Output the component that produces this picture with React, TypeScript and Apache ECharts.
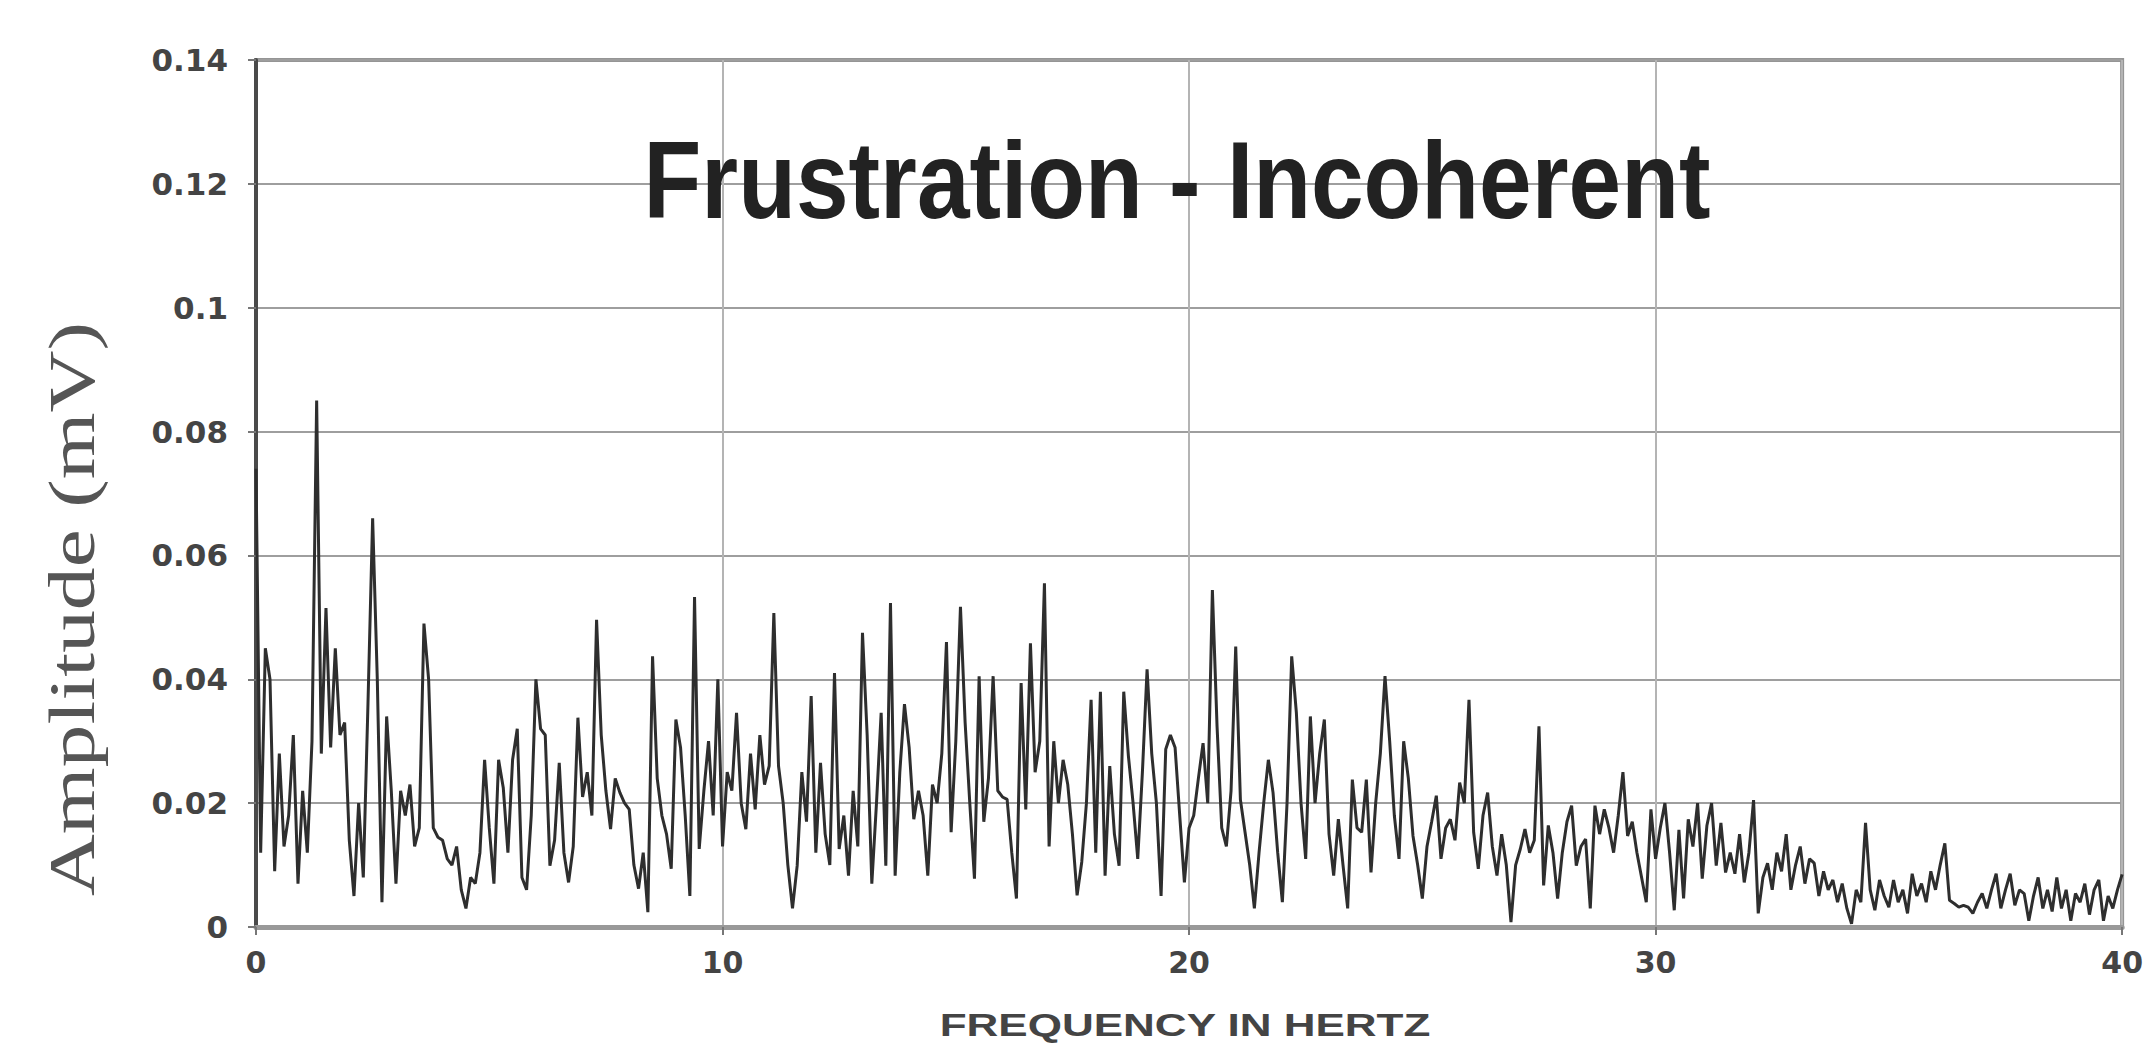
import React, { useEffect, useRef } from "react";
import * as echarts from "echarts";

const TITLE = "Frustration - Incoherent";
const X_LABEL = "FREQUENCY IN HERTZ";
const Y_LABEL = "Amplitude (mV)";

const FREQ_STEP = 0.1; // Hz between samples
const X_TICKS = [0, 10, 20, 30, 40];
const Y_TICKS = [0, 0.02, 0.04, 0.06, 0.08, 0.1, 0.12, 0.14];

// amplitude (mV), one value per 0.1 Hz, rows of 1 Hz
const AMP_0_9 = [
  0.074, 0.012, 0.045, 0.040, 0.009, 0.028, 0.013, 0.018, 0.031, 0.007,
  0.022, 0.012, 0.030, 0.085, 0.028, 0.0515, 0.029, 0.045, 0.031, 0.033,
  0.014, 0.005, 0.020, 0.008, 0.036, 0.066, 0.040, 0.004, 0.034, 0.022,
  0.007, 0.022, 0.018, 0.023, 0.013, 0.016, 0.049, 0.040, 0.016, 0.0145,
  0.014, 0.011, 0.010, 0.013, 0.006, 0.003, 0.008, 0.007, 0.012, 0.027,
  0.016, 0.007, 0.027, 0.0225, 0.012, 0.027, 0.032, 0.008, 0.006, 0.018,
  0.040, 0.032, 0.031, 0.0099, 0.014, 0.0265, 0.012, 0.0072, 0.013, 0.0338,
  0.021, 0.025, 0.018, 0.0496, 0.031, 0.022, 0.0158, 0.024, 0.0217, 0.020,
  0.019, 0.010, 0.0062, 0.012, 0.0024, 0.0437, 0.024, 0.018, 0.015, 0.0094,
  0.0335, 0.029, 0.018, 0.005, 0.0533, 0.0126, 0.022, 0.030, 0.018, 0.040,
];
const AMP_10_19 = [
  0.013, 0.025, 0.022, 0.0346, 0.020, 0.0158, 0.028, 0.019, 0.031, 0.023,
  0.026, 0.0507, 0.026, 0.020, 0.010, 0.003, 0.0099, 0.025, 0.017, 0.0373,
  0.012, 0.0265, 0.015, 0.010, 0.041, 0.0126, 0.018, 0.0083, 0.022, 0.013,
  0.0475, 0.031, 0.007, 0.020, 0.0346, 0.0099, 0.0523, 0.0083, 0.025, 0.036,
  0.029, 0.0174, 0.022, 0.018, 0.0083, 0.023, 0.020, 0.028, 0.046, 0.0153,
  0.030, 0.0517, 0.033, 0.020, 0.0078, 0.0405, 0.017, 0.024, 0.0405, 0.022,
  0.021, 0.0206, 0.012, 0.0046, 0.0394, 0.019, 0.0458, 0.025, 0.030, 0.0555,
  0.013, 0.030, 0.020, 0.027, 0.023, 0.015, 0.0051, 0.0105, 0.020, 0.0367,
  0.012, 0.038, 0.0083, 0.026, 0.015, 0.0099, 0.038, 0.0276, 0.020, 0.011,
  0.025, 0.0416, 0.028, 0.020, 0.005, 0.0287, 0.031, 0.029, 0.018, 0.0072,
];
const AMP_20_29 = [
  0.016, 0.018, 0.024, 0.0297, 0.020, 0.0544, 0.0324, 0.016, 0.013, 0.022,
  0.0453, 0.0206, 0.0153, 0.010, 0.003, 0.012, 0.020, 0.027, 0.0217, 0.012,
  0.004, 0.020, 0.0437, 0.0346, 0.020, 0.011, 0.034, 0.020, 0.028, 0.0335,
  0.015, 0.0083, 0.0174, 0.010, 0.003, 0.0238, 0.016, 0.0153, 0.0238, 0.0088,
  0.020, 0.028, 0.0405, 0.030, 0.018, 0.011, 0.030, 0.024, 0.0147, 0.010,
  0.0046, 0.013, 0.017, 0.0212, 0.011, 0.016, 0.0174, 0.014, 0.0233, 0.020,
  0.0367, 0.0153, 0.0094, 0.018, 0.0217, 0.013, 0.0083, 0.015, 0.010, 0.0008,
  0.010, 0.0126, 0.0158, 0.012, 0.014, 0.0324, 0.0067, 0.0164, 0.012, 0.0046,
  0.012, 0.017, 0.0196, 0.0099, 0.013, 0.0142, 0.003, 0.0196, 0.015, 0.019,
  0.016, 0.012, 0.018, 0.025, 0.0147, 0.017, 0.012, 0.008, 0.004, 0.019,
];
const AMP_30_40 = [
  0.011, 0.016, 0.020, 0.012, 0.0027, 0.0157, 0.0046, 0.0174, 0.013, 0.020,
  0.0078, 0.0164, 0.020, 0.0099, 0.0168, 0.0088, 0.012, 0.0086, 0.015, 0.0072,
  0.012, 0.0205, 0.0022, 0.008, 0.0103, 0.006, 0.012, 0.009, 0.015, 0.006,
  0.010, 0.013, 0.007, 0.011, 0.0103, 0.005, 0.009, 0.006, 0.0076, 0.004,
  0.007, 0.003, 0.0005, 0.006, 0.004, 0.0168, 0.006, 0.0027, 0.0076, 0.005,
  0.0032, 0.0076, 0.004, 0.006, 0.0022, 0.0086, 0.005, 0.007, 0.004, 0.009,
  0.006, 0.010, 0.0135, 0.0043, 0.0038, 0.0032, 0.0035, 0.0032, 0.0022, 0.0040,
  0.0054, 0.003, 0.006, 0.0086, 0.003, 0.006, 0.0086, 0.0035, 0.006, 0.0054,
  0.001, 0.005, 0.008, 0.003, 0.006, 0.0025, 0.008, 0.003, 0.006, 0.001,
  0.0054, 0.004, 0.007, 0.002, 0.006, 0.0076, 0.001, 0.005, 0.003, 0.006,
  0.0085,
];

const AMPLITUDES = [...AMP_0_9, ...AMP_10_19, ...AMP_20_29, ...AMP_30_40];

export default function App() {
  const ref = useRef<HTMLDivElement>(null);

  useEffect(() => {
    if (!ref.current) return;
    const chart = echarts.init(ref.current, null, { renderer: "svg" });
    const data = AMPLITUDES.map((v, i) => [+(i * FREQ_STEP).toFixed(2), v]);
    const xMin = X_TICKS[0];
    const xMax = X_TICKS[X_TICKS.length - 1];
    const yMin = Y_TICKS[0];
    const yMax = Y_TICKS[Y_TICKS.length - 1];

    chart.setOption({
      animation: false,
      backgroundColor: "#ffffff",
      grid: {
        left: 256,
        right: 18,
        top: 60,
        bottom: 123,
        show: true,
        borderColor: "#959595",
        borderWidth: 4,
      },
      xAxis: {
        type: "value",
        min: xMin,
        max: xMax,
        interval: X_TICKS[1] - X_TICKS[0],
        axisLine: { show: true, onZero: false, lineStyle: { color: "#999", width: 5 } },
        axisTick: { show: true, length: 8, lineStyle: { color: "#777", width: 2 } },
        axisLabel: {
          margin: 20,
          color: "#444",
          fontFamily: "DejaVu Sans",
          fontWeight: "bold",
          fontSize: 30,
        },
        splitLine: { show: true, lineStyle: { color: "#b4b4b4", width: 2 } },
      },
      yAxis: {
        type: "value",
        min: yMin,
        max: yMax,
        interval: Y_TICKS[1] - Y_TICKS[0],
        axisLine: { show: true, lineStyle: { color: "#4a4a4a", width: 4 } },
        axisTick: { show: true, length: 8, lineStyle: { color: "#777", width: 2 } },
        axisLabel: {
          margin: 28,
          color: "#444",
          fontFamily: "DejaVu Sans",
          fontWeight: "bold",
          fontSize: 31,
          formatter: (v: number) => String(+v.toFixed(2)),
        },
        splitLine: { show: true, lineStyle: { color: "#9e9e9e", width: 2 } },
      },
      graphic: [
        {
          type: "text",
          x: 1177,
          y: 180,
          scaleX: 0.86,
          style: {
            text: TITLE,
            fontFamily: "Liberation Sans",
            fontWeight: "bold",
            fontSize: 110,
            fill: "#222",
            textAlign: "center",
            textVerticalAlign: "middle",
          },
          z: 10,
        },
        {
          type: "text",
          x: 72,
          y: 609,
          rotation: Math.PI / 2,
          scaleX: 1.3,
          style: {
            text: Y_LABEL,
            fontFamily: "Liberation Serif",
            fontSize: 66,
            fill: "#555",
            textAlign: "center",
            textVerticalAlign: "middle",
          },
        },
        {
          type: "text",
          x: 1185,
          y: 1025,
          scaleX: 1.42,
          style: {
            text: X_LABEL,
            fontFamily: "Liberation Sans",
            fontWeight: "bold",
            fontSize: 31,
            fill: "#444",
            textAlign: "center",
            textVerticalAlign: "middle",
          },
        },
      ],
      series: [
        {
          type: "line",
          data,
          showSymbol: false,
          symbol: "none",
          lineStyle: { color: "#2e2e2e", width: 3 },
          z: 3,
        },
      ],
    });

    return () => chart.dispose();
  }, []);

  return (
    <div
      ref={ref}
      style={{ position: "fixed", left: 0, top: 0, width: 2146, height: 1050 }}
    />
  );
}
